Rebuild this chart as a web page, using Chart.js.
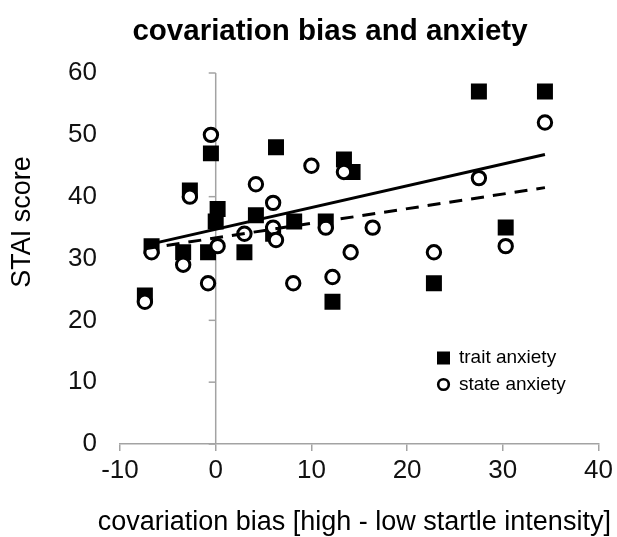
<!DOCTYPE html>
<html>
<head>
<meta charset="utf-8">
<script src="https://cdn.jsdelivr.net/npm/chart.js@4.4.1/dist/chart.umd.min.js"></script>
<style>
  html, body { margin: 0; padding: 0; background: #ffffff; }
  #c { display: block; }
</style>
</head>
<body>
<canvas id="c" width="617" height="537"></canvas>
<script>
// ---------- data ----------
const titleText = 'covariation bias and anxiety';
const xTitle = 'covariation bias [high - low startle intensity]';
const yTitle = 'STAI score';
const seriesNames = ['trait anxiety', 'state anxiety'];

const traitX = [-7.4, -6.7, -3.4, -2.7, -0.8, -0.5, 0, 0.2, 3, 4.2, 6, 6.3, 8.2, 11.5, 12.2, 13.4, 14.3, 22.8, 27.5, 30.3, 34.4];
const traitY = [24, 32, 31, 41, 31, 47, 36, 38, 31, 37, 34, 48, 36, 36, 23, 46, 44, 26, 57, 35, 57];

const stateX = [-7.4, -6.7, -3.4, -2.7, -0.8, -0.5, 0.2, 3, 4.2, 6, 6, 6.3, 8.1, 10, 11.5, 12.2, 13.4, 14.1, 16.4, 22.8, 27.5, 30.3, 34.4];
const stateY = [23, 31, 29, 40, 26, 50, 32, 34, 42, 39, 35, 33, 26, 45, 35, 27, 44, 31, 35, 31, 43, 32, 52];

const xTicks = [-10, 0, 10, 20, 30, 40];
const yTicks = [0, 10, 20, 30, 40, 50, 60];

// ---------- helpers ----------
const toPts = (xs, ys) => xs.map((x, i) => ({ x: x, y: ys[i] }));
function linearFit(xs, ys) {
  const n = xs.length;
  const mx = xs.reduce((a, b) => a + b, 0) / n;
  const my = ys.reduce((a, b) => a + b, 0) / n;
  let sxy = 0, sxx = 0;
  for (let i = 0; i < n; i++) { sxy += (xs[i] - mx) * (ys[i] - my); sxx += (xs[i] - mx) ** 2; }
  const m = sxy / sxx, b = my - m * mx;
  const x0 = Math.min(...xs), x1 = Math.max(...xs);
  return [{ x: x0, y: m * x0 + b }, { x: x1, y: m * x1 + b }];
}

const AXIS_GRAY = '#a3a3a3';
const FONT = '"Liberation Sans", Arial, sans-serif';

function drawText(ctx, txt, x, y, font, align, baseline, rot) {
  ctx.save();
  ctx.translate(x, y);
  if (rot) ctx.rotate(rot);
  ctx.font = font;
  ctx.textAlign = align;
  ctx.textBaseline = baseline;
  ctx.fillStyle = '#000';
  ctx.fillText(txt, 0, 0);
  ctx.restore();
}

const textPlugin = {
  id: 'texts',
  afterDraw(chart) {
    const ctx = chart.ctx;
    const ca = chart.chartArea;
    ctx.save();
    // title
    drawText(ctx, titleText, 330, 40, 'bold 29.5px ' + FONT, 'center', 'alphabetic');
    // x title
    drawText(ctx, xTitle, (ca.left + ca.right) / 2 - 5, 530, '27px ' + FONT, 'center', 'alphabetic');
    // y title
    drawText(ctx, yTitle, 23, 222, '27px ' + FONT, 'center', 'middle', -Math.PI / 2);
    // legend
    const lx = 443.5, ly1 = 358, ly2 = 384.5;
    ctx.fillStyle = '#000';
    ctx.fillRect(lx - 6.5, ly1 - 6.5, 13, 13);
    ctx.beginPath();
    ctx.arc(lx, ly2, 5.3, 0, Math.PI * 2);
    ctx.fillStyle = '#fff';
    ctx.fill();
    ctx.lineWidth = 2.6;
    ctx.strokeStyle = '#000';
    ctx.stroke();
    drawText(ctx, seriesNames[0], 459, ly1, '19px ' + FONT, 'left', 'middle');
    drawText(ctx, seriesNames[1], 459, ly2, '19px ' + FONT, 'left', 'middle');
    ctx.restore();
  }
};

const ctx = document.getElementById('c').getContext('2d');
new Chart(ctx, {
  type: 'scatter',
  data: {
    datasets: [
      {
        type: 'line', label: 'trait trend', data: linearFit(traitX, traitY),
        borderColor: '#000', borderWidth: 3, pointRadius: 0, showLine: true, fill: false, order: 0
      },
      {
        type: 'line', label: 'state trend', data: linearFit(stateX, stateY),
        borderColor: '#000', borderWidth: 3, borderDash: [13, 9], pointRadius: 0, showLine: true, fill: false, order: 1
      },
      {
        label: seriesNames[1], data: toPts(stateX, stateY),
        pointStyle: 'circle', pointRadius: 6.7, pointBorderWidth: 3,
        pointBackgroundColor: '#fff', pointBorderColor: '#000', order: 2
      },
      {
        label: seriesNames[0], data: toPts(traitX, traitY),
        pointStyle: 'rect', pointRadius: 11.3, pointBorderWidth: 0,
        pointBackgroundColor: '#000', pointBorderColor: '#000', order: 3
      },
      {
        type: 'line', label: 'y axis', data: yTicks.map(v => ({ x: 0, y: v })),
        borderColor: AXIS_GRAY, borderWidth: 1.5, showLine: true, fill: false,
        pointStyle: 'dash', pointRotation: 180, pointRadius: 7,
        pointBorderColor: AXIS_GRAY, pointBorderWidth: 1.5, clip: false, order: 4
      }
    ]
  },
  options: {
    responsive: false,
    animation: false,
    devicePixelRatio: 1,
    layout: { padding: { left: 42, right: 17, top: 73, bottom: 0 } },
    plugins: { legend: { display: false }, title: { display: false }, tooltip: { enabled: false } },
    scales: {
      x: {
        type: 'linear', min: -10, max: 40,
        afterBuildTicks: (s) => { s.ticks = xTicks.map(v => ({ value: v })); },
        ticks: { font: { family: FONT, size: 26 }, color: '#111', padding: 4, maxRotation: 0 },
        grid: { drawOnChartArea: false, drawTicks: true, tickLength: 7, color: AXIS_GRAY, lineWidth: 1.5 },
        border: { display: true, color: AXIS_GRAY, width: 1.5 },
        afterFit: (s) => { s.height = 93; }
      },
      y: {
        type: 'linear', min: 0, max: 60,
        afterBuildTicks: (s) => { s.ticks = yTicks.map(v => ({ value: v })); },
        ticks: { font: { family: FONT, size: 26 }, color: '#111', padding: 23 },
        grid: { display: false, drawTicks: false },
        border: { display: false },
        afterFit: (s) => { s.width = 78; }
      }
    }
  },
  plugins: [textPlugin]
});
</script>
</body>
</html>
